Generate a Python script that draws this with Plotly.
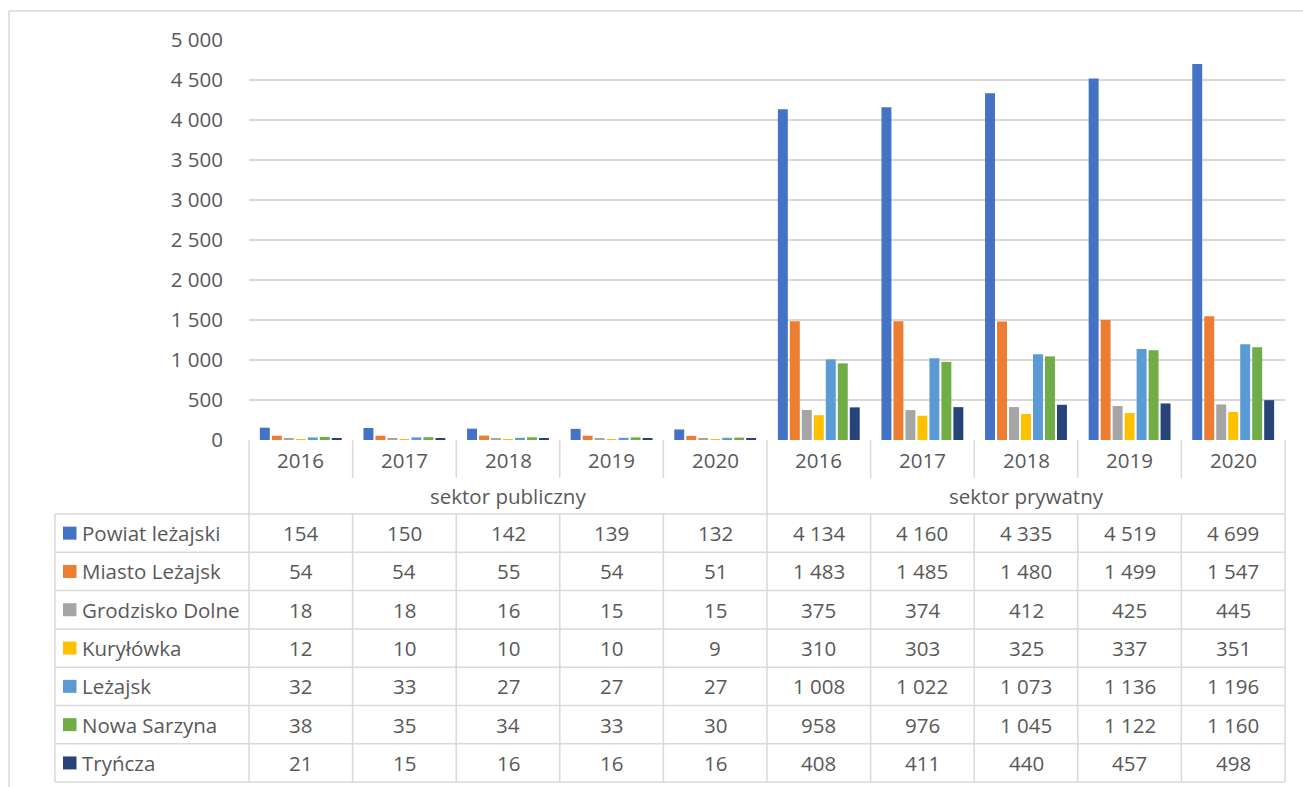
import plotly.graph_objects as go

years = ["2016", "2017", "2018", "2019", "2020"]
sectors = ["sektor publiczny", "sektor prywatny"]
series_names = ["Powiat leżajski", "Miasto Leżajsk", "Grodzisko Dolne", "Kuryłówka",
                "Leżajsk", "Nowa Sarzyna", "Tryńcza"]
powiat = [154, 150, 142, 139, 132, 4134, 4160, 4335, 4519, 4699]
miasto = [54, 54, 55, 54, 51, 1483, 1485, 1480, 1499, 1547]
grodzisko = [18, 18, 16, 15, 15, 375, 374, 412, 425, 445]
kurylowka = [12, 10, 10, 10, 9, 310, 303, 325, 337, 351]
lezajsk = [32, 33, 27, 27, 27, 1008, 1022, 1073, 1136, 1196]
nowa_sarzyna = [38, 35, 34, 33, 30, 958, 976, 1045, 1122, 1160]
trynicza = [21, 15, 16, 16, 16, 408, 411, 440, 457, 498]
series_values = [powiat, miasto, grodzisko, kurylowka, lezajsk, nowa_sarzyna, trynicza]
colors = ["#4472C4", "#ED7D31", "#A5A5A5", "#FFC000", "#5B9BD5", "#70AD47", "#264478"]
y_ticks = [0, 500, 1000, 1500, 2000, 2500, 3000, 3500, 4000, 4500, 5000]

W, H = 1303, 787
L, R, T, B = 249, 1285, 40, 440
FONT = "Open Sans"
TXT = "#595959"
GRID = "#D9D9D9"
FS = 20.5

n_cat = len(sectors) * len(years)
xs = list(range(n_cat))

def px2x(px):
    return (px - L) / (R - L)

def py2y(py):
    return (B - py) / (B - T)

def catx(i):
    return (i + 0.5) / n_cat

fig = go.Figure()
for name, vals, c in zip(series_names, series_values, colors):
    fig.add_trace(go.Bar(x=xs, y=vals, name=name, marker_color=c,
                         marker_line_width=0, showlegend=False))

shapes = []
annotations = []

def text(x, ypx, s, xanchor="center"):
    annotations.append(dict(x=x, y=py2y(ypx), xref="paper", yref="paper", text=s,
                            xanchor=xanchor, yanchor="middle", showarrow=False,
                            font=dict(family=FONT, size=FS, color=TXT)))

def hline(y0px, x0, x1):
    shapes.append(dict(type="line", xref="paper", yref="paper", x0=x0, x1=x1,
                       y0=py2y(y0px), y1=py2y(y0px), line=dict(color=GRID, width=1.5)))

def vline(x, y0px, y1px):
    shapes.append(dict(type="line", xref="paper", yref="paper", x0=x, x1=x,
                       y0=py2y(y0px), y1=py2y(y1px), line=dict(color=GRID, width=1.5)))

year_top, year_bot = 440, 478
group_bot = 514
row_h = 38.3
n_rows = len(series_names)
table_bot = group_bot + row_h * n_rows
leg_left = 55

# year row
for i in range(n_cat + 1):
    vline(i / n_cat, year_top, year_bot)
for i in range(n_cat):
    text(catx(i), 460, years[i % len(years)])
# group row
for k in range(len(sectors) + 1):
    vline(k / len(sectors), year_bot, group_bot)
for k, s in enumerate(sectors):
    text((k + 0.5) / len(sectors), 496, s)
# data rows
hline(group_bot, px2x(leg_left), 1)
for r in range(n_rows):
    hline(group_bot + row_h * (r + 1), px2x(leg_left), 1)
vline(px2x(leg_left), group_bot, table_bot)
for i in range(n_cat + 1):
    vline(i / n_cat, group_bot, table_bot)
for r, (name, vals, c) in enumerate(zip(series_names, series_values, colors)):
    yc = group_bot + row_h * (r + 0.5)
    shapes.append(dict(type="rect", xref="paper", yref="paper", x0=px2x(63), x1=px2x(76.5),
                       y0=py2y(yc - 6.5), y1=py2y(yc + 6.5), fillcolor=c, line=dict(width=0)))
    text(px2x(80), yc, name, xanchor="left")
    for i, v in enumerate(vals):
        text(catx(i), yc, f"{v:,}".replace(",", " "))

# outer chart border (top & left visible)
shapes.append(dict(type="line", xref="paper", yref="paper", x0=px2x(9), x1=px2x(1310),
                   y0=py2y(11), y1=py2y(11), line=dict(color=GRID, width=1.5)))
shapes.append(dict(type="line", xref="paper", yref="paper", x0=px2x(9), x1=px2x(9),
                   y0=py2y(11), y1=py2y(800), line=dict(color=GRID, width=1.5)))

fig.update_layout(
    width=W, height=H,
    margin=dict(l=L, r=W - R, t=T, b=H - B, pad=0),
    paper_bgcolor="white", plot_bgcolor="white",
    barmode="group", bargap=0.19, bargroupgap=0.17,
    separators=", ",
    shapes=shapes, annotations=annotations,
    xaxis=dict(range=[-0.5, n_cat - 0.5], showticklabels=False, showgrid=False,
               zeroline=False, showline=False, fixedrange=True),
    yaxis=dict(range=[0, 5000], tickvals=y_ticks, tickformat=",d",
               showgrid=True, gridcolor=GRID, gridwidth=1.5, zeroline=False,
               showline=False, ticks="outside", ticklen=21, tickcolor="rgba(0,0,0,0)",
               tickfont=dict(family=FONT, size=FS, color=TXT)),
)

fig.write_html("out.html", config={"displayModeBar": False},
               post_script="document.body.style.margin='0';")
